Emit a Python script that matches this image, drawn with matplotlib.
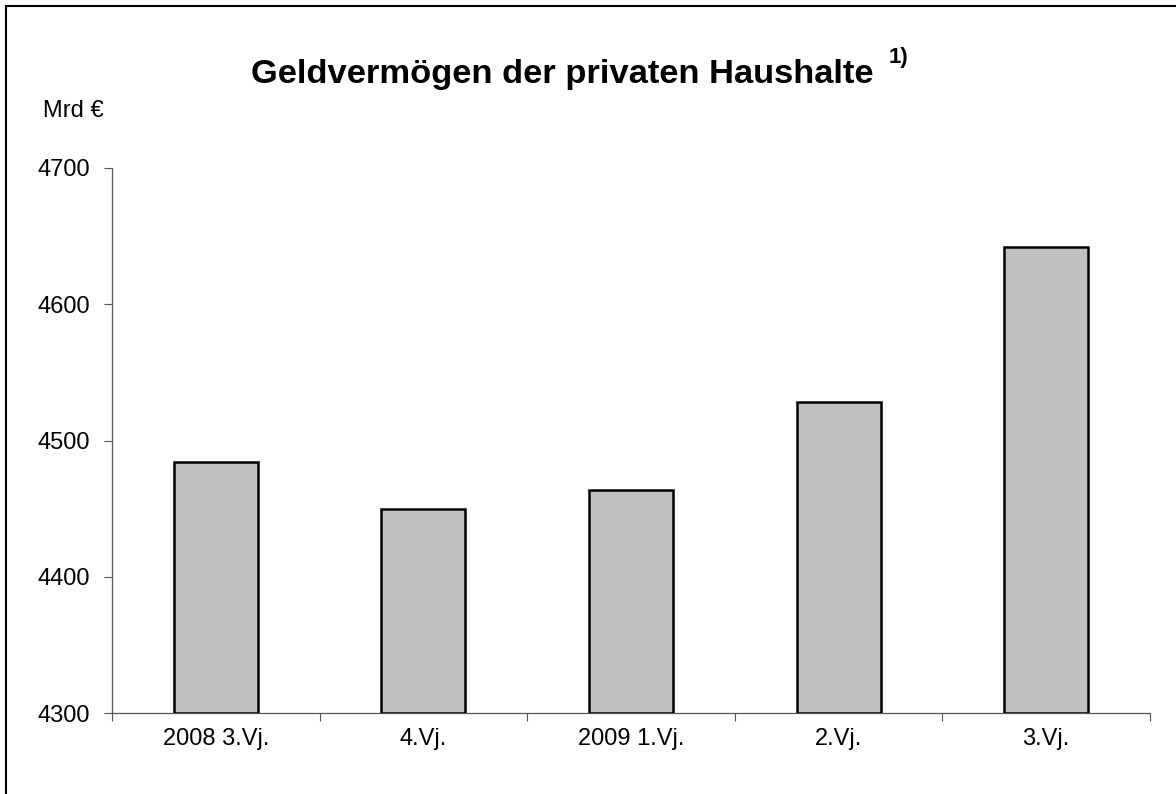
import matplotlib.pyplot as plt
from matplotlib.patches import Rectangle

plt.rcParams["font.family"] = ["Liberation Sans", "DejaVu Sans"]

categories = ["2008 3.Vj.", "4.Vj.", "2009 1.Vj.", "2.Vj.", "3.Vj."]
values = [4484, 4450, 4464, 4528, 4642]
y_ticks = [4300, 4400, 4500, 4600, 4700]

W, H = 1176, 794
fig = plt.figure(figsize=(W / 100, H / 100), dpi=100)
ax = fig.add_axes([112 / W, 1 - 713 / H, (1150 - 112) / W, (713 - 168) / H])

x = range(len(categories))
ax.bar(x, [v - y_ticks[0] for v in values], bottom=y_ticks[0], width=0.405,
       color="#c0c0c0", edgecolor="black", linewidth=1.8, zorder=3)

ax.set_xlim(-0.5, len(categories) - 0.5)
ax.set_ylim(y_ticks[0], y_ticks[-1])
ax.set_yticks(y_ticks)
# category boundaries carry the tick marks, labels sit between them
ax.set_xticks([i + 0.5 for i in range(-1, len(categories))])
ax.set_xticklabels([])
ax.set_xticks(list(x), minor=True)
ax.set_xticklabels(categories, minor=True)
ax.tick_params(axis="x", which="major", length=6, width=0.8, color="#555555")
ax.tick_params(axis="x", which="minor", length=0, pad=11, labelsize=17)
ax.tick_params(axis="y", length=6, width=0.8, color="#555555", labelsize=17, pad=10)

for s in ["top", "right"]:
    ax.spines[s].set_visible(False)
for s in ["left", "bottom"]:
    ax.spines[s].set_color("#555555")
    ax.spines[s].set_linewidth(0.9)

fig.text(251 / W, 1 - 75 / H, "Geldvermögen der privaten Haushalte",
         ha="left", va="center", fontsize=24.8, fontweight="bold")
fig.text(889 / W, 1 - 58 / H, "1)", ha="left", va="center", fontsize=16, fontweight="bold")
fig.text(43 / W, 1 - 111 / H, "Mrd €", ha="left", va="center", fontsize=17)

fig.patches.append(Rectangle((6 / W, -0.1), 1.2, 1 - 6 / H + 0.1, transform=fig.transFigure,
                             fill=False, edgecolor="black", linewidth=1.5))

fig.savefig("out.png", dpi=100)
